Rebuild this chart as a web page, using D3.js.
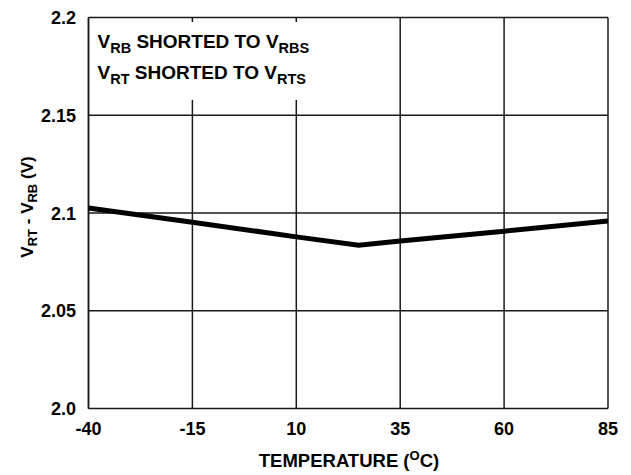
<!DOCTYPE html>
<html>
<head>
<meta charset="utf-8">
<style>
body { margin: 0; background: #fff; }
text { font-family: "Liberation Sans", Arial, sans-serif; font-weight: bold; fill: #000; }
.grid line { stroke: #1a1a1a; stroke-width: 1.5px; }
</style>
</head>
<body>
<script src="https://cdn.jsdelivr.net/npm/d3@7"></script>
<script>

// data
var temps = [-40, -15, 10, 25, 35, 60, 85];
var volts = [2.1026, 2.0953, 2.0878, 2.0835, 2.0857, 2.0907, 2.0959];

var xTicks = [-40, -15, 10, 35, 60, 85];
var yTicks = [2.0, 2.05, 2.1, 2.15, 2.2];
var yTickLabels = ["2.0", "2.05", "2.1", "2.15", "2.2"];

var width = 631, height = 475;
var margin = {left: 88.5, right: 23, top: 17.5, bottom: 66.5};

var svg = d3.select("body").append("svg")
    .attr("width", width)
    .attr("height", height);

var x = d3.scaleLinear().domain([-40, 85]).range([margin.left, width - margin.right]);
var y = d3.scaleLinear().domain([2.0, 2.2]).range([height - margin.bottom, margin.top]);

var grid = svg.append("g").attr("class", "grid");

grid.selectAll("line.v")
    .data(xTicks)
    .enter().append("line")
    .attr("class", "v")
    .attr("x1", function(d) { return x(d); })
    .attr("x2", function(d) { return x(d); })
    .attr("y1", y(2.0))
    .attr("y2", y(2.2));

grid.selectAll("line.h")
    .data(yTicks)
    .enter().append("line")
    .attr("class", "h")
    .attr("x1", x(-40))
    .attr("x2", x(85))
    .attr("y1", function(d) { return y(d); })
    .attr("y2", function(d) { return y(d); });

// white box behind the note
svg.append("rect")
    .attr("x", x(-40) + 1.5)
    .attr("y", y(2.2) + 4.5)
    .attr("width", 232)
    .attr("height", 78)
    .attr("fill", "#fff");

// left frame edge drawn again over the box
svg.append("line")
    .attr("x1", x(-40)).attr("x2", x(-40))
    .attr("y1", y(2.0)).attr("y2", y(2.2))
    .attr("stroke", "#1a1a1a").attr("stroke-width", 1.5);

var line = d3.line()
    .x(function(d, i) { return x(temps[i]); })
    .y(function(d) { return y(d); });

svg.append("path")
    .datum(volts)
    .attr("d", line)
    .attr("fill", "none")
    .attr("stroke", "#000")
    .attr("stroke-width", 5);

// tick labels
svg.selectAll("text.xt")
    .data(xTicks)
    .enter().append("text")
    .attr("class", "xt")
    .attr("x", function(d) { return x(d); })
    .attr("y", 434.5)
    .attr("text-anchor", "middle")
    .style("font-size", "18px")
    .text(function(d) { return d; });

svg.selectAll("text.yt")
    .data(yTicks)
    .enter().append("text")
    .attr("class", "yt")
    .attr("x", 76)
    .attr("y", function(d) { return y(d) + 6.5; })
    .attr("text-anchor", "end")
    .style("font-size", "18px")
    .text(function(d, i) { return yTickLabels[i]; });

// axis titles
var xt = svg.append("text")
    .attr("x", 349)
    .attr("y", 466.5)
    .attr("text-anchor", "middle")
    .style("font-size", "18.5px");
xt.append("tspan").text("TEMPERATURE (");
xt.append("tspan").attr("dy", -7).style("font-size", "13px").text("O");
xt.append("tspan").attr("dy", 7).text("C)");

var yt = svg.append("text")
    .attr("transform", "translate(33,207) rotate(-90)")
    .attr("text-anchor", "middle")
    .style("font-size", "17px");
yt.append("tspan").text("V");
yt.append("tspan").attr("dy", 4).style("font-size", "13px").text("RT");
yt.append("tspan").attr("dy", -4).text(" - V");
yt.append("tspan").attr("dy", 4).style("font-size", "13px").text("RB");
yt.append("tspan").attr("dy", -4).text(" (V)");

// note lines
var notes = [["V", "RB", " SHORTED TO V", "RBS"], ["V", "RT", " SHORTED TO V", "RTS"]];
notes.forEach(function(n, i) {
  var t = svg.append("text")
      .attr("x", 97.5)
      .attr("y", 48 + i * 31)
      .style("font-size", "19px");
  t.append("tspan").text(n[0]);
  t.append("tspan").attr("dy", 5).style("font-size", "14.5px").text(n[1]);
  t.append("tspan").attr("dy", -5).text(n[2]);
  t.append("tspan").attr("dy", 5).style("font-size", "14.5px").text(n[3]);
});

</script>
</body>
</html>
